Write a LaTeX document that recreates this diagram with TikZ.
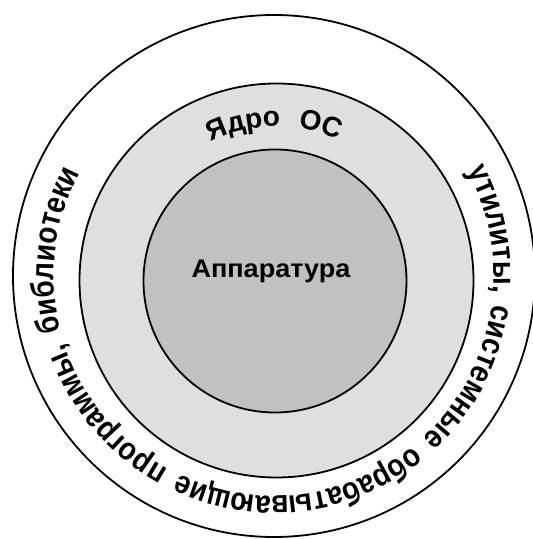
\documentclass[tikz,border=0pt]{standalone}
\usepackage{fontspec}
\setmainfont{Liberation Sans}
\newfontfamily\condfont[FakeStretch=0.87]{Liberation Sans}
\newfontfamily\widefont[FakeStretch=1.06]{Liberation Sans}
\usetikzlibrary{decorations.text}
\definecolor{kernelgray}{HTML}{DFDFDF}
\definecolor{hwgray}{HTML}{C1C1C1}
\newcommand\ringtxtfont{\condfont\bfseries\fontsize{32}{32}\selectfont}
\newcommand\kerntxtfont{\bfseries\fontsize{28}{28}\selectfont}
\begin{document}
\begin{tikzpicture}[x=1pt,y=1pt,
  ring/.style={circle, draw=black, line width=1.8pt, inner sep=0pt, outer sep=0pt},
  labeltxt/.style={font=\widefont\bfseries\fontsize{25.5}{25.5}\selectfont, text=black}]
\useasboundingbox (0,0) rectangle (533,539);
\coordinate (co) at (274,263);
\coordinate (cm) at (276.5,258.5);
\coordinate (ci) at (275,258);
\node[ring, fill=white, minimum size=522pt] (outer) at (co) {};
\node[ring, fill=kernelgray, minimum size=394pt] (kernel) at (cm) {};
\node[ring, fill=hwgray, minimum size=263pt] (hw) at (ci) {};
\node[labeltxt, anchor=base] (hwlabel) at (271,261) {Аппаратура};
% kernel label
\path[decorate, decoration={text along path, text={|\kerntxtfont|Ядро}, text align=center}]
  ([shift={(cm)}]122:154) arc[start angle=122, end angle=82, radius=154];
\path[decorate, decoration={text along path, text={|\kerntxtfont|ОС}, text align=center}]
  ([shift={(cm)}]94:154) arc[start angle=94, end angle=54, radius=154];
% outer ring label
\path[decorate, decoration={text along path, text={|\ringtxtfont|утилиты, системные обрабатывающие программы, библиотеки}, text align={fit to path stretching spaces}}]
  ([shift={(co)}]28.5:220) arc[start angle=28.5, end angle=-208, radius=220];
\end{tikzpicture}
\end{document}
